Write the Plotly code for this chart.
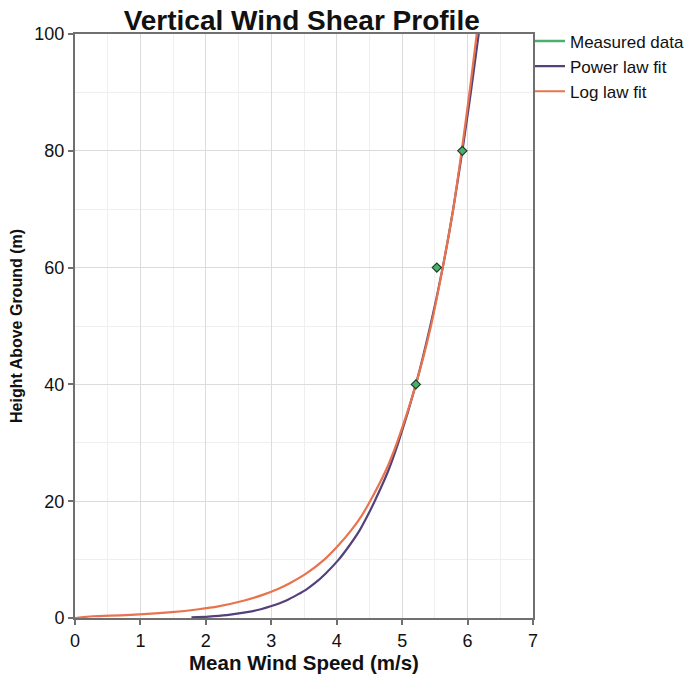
import plotly.graph_objects as go

# Measured data
meas_speed = [5.21, 5.53, 5.92]
meas_height = [40, 60, 80]

# Power law fit
pow_height = [0.12, 0.25, 0.5, 1, 1.5, 2, 3, 4, 5, 6, 7.5, 10, 12.5, 15, 17.5, 20, 25, 30, 40, 50, 60, 70, 80, 90, 100, 104]
pow_speed = [1.78, 2.04, 2.32, 2.63, 2.84, 2.99, 3.23, 3.40, 3.55, 3.67, 3.82, 4.03, 4.20, 4.35, 4.47, 4.58, 4.78, 4.94, 5.21, 5.43, 5.62, 5.78, 5.92, 6.05, 6.17, 6.22]

# Log law fit
log_height = [0.0, 0.3, 0.5, 1, 1.5, 2, 3, 4, 5, 6, 7.5, 10, 12.5, 15, 17.5, 20, 25, 30, 40, 50, 60, 70, 80, 90, 100, 104]
log_speed = [0.0, 0.27, 0.78, 1.48, 1.89, 2.19, 2.59, 2.88, 3.11, 3.29, 3.52, 3.81, 4.03, 4.22, 4.38, 4.51, 4.74, 4.92, 5.21, 5.44, 5.62, 5.78, 5.91, 6.03, 6.14, 6.18]

x_ticks = [0, 1, 2, 3, 4, 5, 6, 7]
y_ticks = [0, 20, 40, 60, 80, 100]

GREEN = "#4caf6e"
PURPLE = "#54407a"
ORANGE = "#e8734c"
FONT = "Arial, Liberation Sans, sans-serif"

fig = go.Figure()
fig.add_trace(go.Scatter(x=pow_speed, y=pow_height, mode="lines", name="Power law fit",
                         line=dict(color=PURPLE, width=2.2, shape="spline", smoothing=0.6), legendrank=2))
fig.add_trace(go.Scatter(x=log_speed, y=log_height, mode="lines", name="Log law fit",
                         line=dict(color=ORANGE, width=2.2, shape="spline", smoothing=0.6), legendrank=3))
fig.add_trace(go.Scatter(x=meas_speed, y=meas_height, mode="markers", name="Measured data",
                         marker=dict(symbol="diamond", size=7, color=GREEN,
                                     line=dict(color="#1f3d25", width=1.2)),
                         showlegend=False))
fig.add_trace(go.Scatter(x=[None], y=[None], mode="lines", name="Measured data",
                         line=dict(color=GREEN, width=2.5), legendrank=1))

axis_common = dict(
    showline=True, linecolor="#707070", linewidth=2, mirror=True,
    ticks="outside", ticklen=5, tickcolor="#707070", tickwidth=1.5,
    showgrid=True, gridcolor="#dcdcdc", gridwidth=1.2, zeroline=False,
    tickfont=dict(family=FONT, size=18, color="#111111"),
    automargin=False,
)

fig.update_layout(
    width=688, height=678,
    margin=dict(l=75, r=155, t=34, b=60, autoexpand=False),
    paper_bgcolor="white", plot_bgcolor="white",
    title=dict(text="<b>Vertical Wind Shear Profile</b>", xref="paper", x=0.495, xanchor="center",
               yref="container", y=0.97, yanchor="middle", font=dict(family=FONT, size=28, color="#111111")),
    xaxis=dict(range=[0, 7], tickvals=x_ticks,
               title=dict(text="<b>Mean Wind Speed (m/s)</b>", font=dict(family=FONT, size=20.5, color="#111111"), standoff=6),
               minor=dict(dtick=0.5, tick0=0, showgrid=True, gridcolor="#efefef", gridwidth=1),
               **axis_common),
    yaxis=dict(range=[0, 100], tickvals=y_ticks,
               title=dict(text="<b>Height Above Ground (m)</b>", font=dict(family=FONT, size=16, color="#111111"), standoff=8),
               minor=dict(dtick=10, tick0=0, showgrid=True, gridcolor="#efefef", gridwidth=1),
               **axis_common),
    legend=dict(x=(530 - 75) / 458, y=1.018, xanchor="left", yanchor="top",
                font=dict(family=FONT, size=17, color="#111111"),
                bgcolor="rgba(0,0,0,0)", itemwidth=30, tracegroupgap=0),
    showlegend=True,
)

fig.write_html("out.html", config={"displayModeBar": False},
               post_script="document.body.style.margin='0';")
